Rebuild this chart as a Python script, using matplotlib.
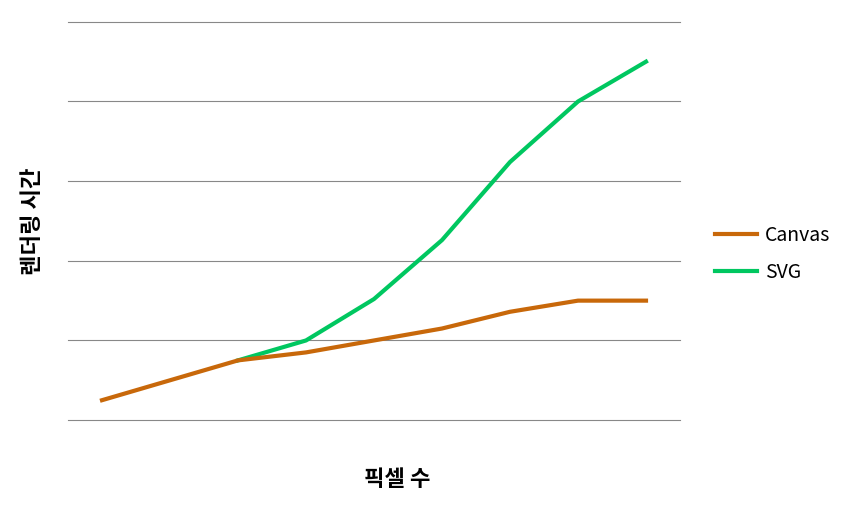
import matplotlib
matplotlib.use("Agg")
import matplotlib.pyplot as plt
import numpy as np

plt.rcParams['font.family'] = ['Noto Sans CJK KR', 'DejaVu Sans']

x_idx = list(range(9))
canvas = [0.25, 0.5, 0.75, 0.85, 1.0, 1.15, 1.36, 1.5, 1.5]
svg = [np.nan, np.nan, 0.75, 1.0, 1.52, 2.26, 3.24, 4.0, 4.5]

fig = plt.figure(figsize=(8.5, 5.08), dpi=100)
ax = fig.add_axes([0.08, 0.173, 0.72, 0.784])
ax.plot(x_idx, svg, color='#00c760', lw=3, label='SVG', zorder=3)
ax.plot(x_idx, canvas, color='#c8680a', lw=3, label='Canvas', zorder=4)
ax.set_xlim(-0.5, 8.5)
ax.set_ylim(0, 5)
for yv in [0, 1, 2, 3, 4, 5]:
    ax.axhline(yv, color='#888888', lw=0.8, clip_on=False, zorder=1)
ax.set_xticks([])
ax.set_yticks([])
for s in ax.spines.values():
    s.set_visible(False)
ax.set_ylabel('렌더링 시간', fontsize=16, fontweight='bold')
ax.yaxis.set_label_coords(-0.04, 0.5)
ax.set_xlabel('픽셀 수', fontsize=16, fontweight='bold')
ax.xaxis.set_label_coords(0.538, -0.12)
h, l = ax.get_legend_handles_labels()
fig.legend([h[1], h[0]], [l[1], l[0]], loc='center left', bbox_to_anchor=(0.82, 0.5),
           frameon=False, fontsize=14, handlelength=2.2, handletextpad=0.4, labelspacing=0.8)
fig.savefig('out.png', dpi=100)
